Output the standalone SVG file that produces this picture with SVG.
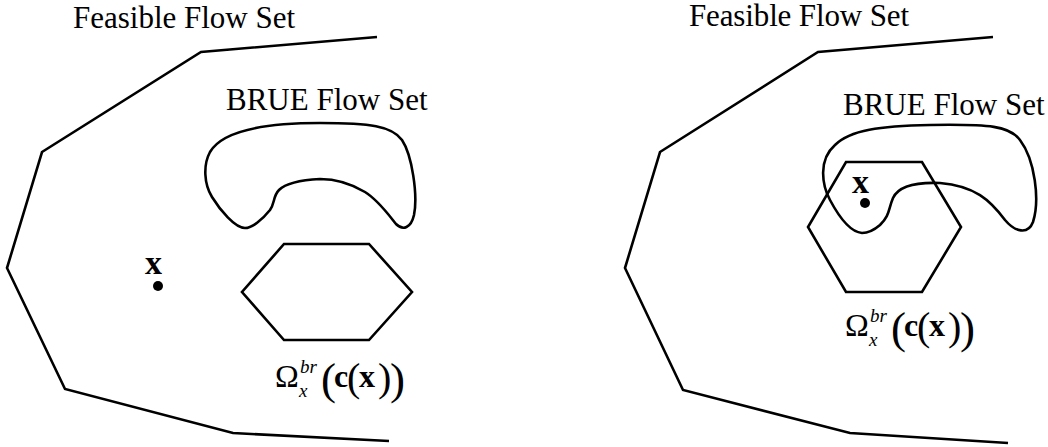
<svg xmlns="http://www.w3.org/2000/svg" width="1048" height="447" viewBox="0 0 1048 447">
<style>
.ln{fill:none;stroke:#000;stroke-width:2.6;stroke-linejoin:miter}
text{font-family:'Liberation Serif','DejaVu Serif',serif;fill:#000}
.lab{font-size:31px}
.bx{font-weight:bold}
.it{font-style:italic}
</style>
<rect width="1048" height="447" fill="#fff"/>
<g id="left-panel" font-family="Liberation Serif, DejaVu Serif, serif">
  <g id="left-feasible">
    <polyline class="ln" points="377,37 201,52 42,152 7,268 65,389 233,433 389,441"/>
    <text class="lab" x="73" y="28" textLength="222">Feasible Flow Set</text>
  </g>
  <g id="left-brue">
    <path class="ln" d="M 245 228 C 235 228, 220 210, 212 197 C 204 184, 203 165, 210 152 C 220 135, 250 123, 320 123 C 370 123, 392 126, 402 140 C 412 155, 418 195, 414 215 C 411 228, 403 231, 396 224 C 388 214, 378 200, 365 192 C 350 183, 335 179, 320 179 C 300 180, 285 184, 279 190 C 273 196, 275 203, 270 210 C 262 220, 252 228, 245 228 Z"/>
    <text class="lab" x="226" y="110">BRUE Flow Set</text>
  </g>
  <g id="left-x">
    <text class="bx" x="145" y="274" font-size="34">x</text>
    <circle cx="158" cy="286" r="5" fill="#000"/>
  </g>
  <g id="left-omega">
    <polygon class="ln" points="284,244 369,244 412,292 369,340 284,340 242,292"/>
    <g>
      <text x="275" y="387" font-size="32">Ω</text>
      <text class="it" x="300" y="373" font-size="19">br</text>
      <text class="it" x="299" y="397" font-size="19">x</text>
      <text x="321" y="394" font-size="45">(</text>
      <text class="bx" x="334" y="387" font-size="32">c</text>
      <text x="347" y="391" font-size="40">(</text>
      <text class="bx" x="359" y="387" font-size="32">x</text>
      <text x="378" y="391" font-size="40">)</text>
      <text x="390" y="394" font-size="45">)</text>
    </g>
  </g>
</g>
<g id="right-panel" font-family="Liberation Serif, DejaVu Serif, serif">
  <g id="right-feasible">
    <polyline class="ln" points="993,37 818,52 660,152 625,268 683,390 850,433 1008,443"/>
    <text class="lab" x="689" y="26" textLength="220">Feasible Flow Set</text>
  </g>
  <g id="right-brue">
    <path class="ln" d="M 862 233 C 850 232, 838 215, 830 200 C 822 185, 818 160, 835 145 C 850 130, 880 126, 930 125 C 990 124, 1010 126, 1020 140 C 1035 160, 1040 200, 1033 222 C 1028 235, 1015 232, 1005 220 C 990 200, 975 186, 940 183 C 915 182, 898 187, 893 198 C 888 210, 890 215, 880 225 C 873 231, 868 233, 862 233 Z"/>
    <text class="lab" x="843" y="115">BRUE Flow Set</text>
  </g>
  <g id="right-omega">
    <polygon class="ln" points="846,162 922,162 961,227 922,292 846,292 808,227"/>
    <g transform="translate(570,-51)">
      <text x="275" y="387" font-size="32">Ω</text>
      <text class="it" x="300" y="373" font-size="19">br</text>
      <text class="it" x="299" y="397" font-size="19">x</text>
      <text x="321" y="394" font-size="45">(</text>
      <text class="bx" x="334" y="387" font-size="32">c</text>
      <text x="347" y="391" font-size="40">(</text>
      <text class="bx" x="359" y="387" font-size="32">x</text>
      <text x="378" y="391" font-size="40">)</text>
      <text x="390" y="394" font-size="45">)</text>
    </g>
  </g>
  <g id="right-x">
    <text class="bx" x="852" y="193" font-size="34">x</text>
    <circle cx="865" cy="203" r="5" fill="#000"/>
  </g>
</g>
<g id="connectors"></g>
</svg>
